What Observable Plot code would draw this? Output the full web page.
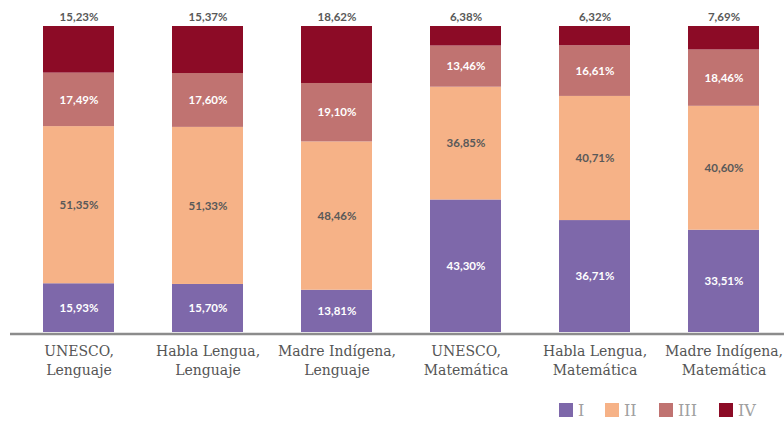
<!DOCTYPE html>
<html>
<head>
<meta charset="utf-8">
<script src="https://cdn.jsdelivr.net/npm/d3@7"></script>
<script src="https://cdn.jsdelivr.net/npm/@observablehq/plot@0.6"></script>
<style>
  html, body { margin: 0; padding: 0; background: #fff; }
  #chart { width: 784px; }
  .legend { position: relative; height: 26px;
            font-family: "DejaVu Serif", serif; font-size: 16px; color: #a0a0a0; }
  .legend .item { position: absolute; top: 8px; display: flex; align-items: center; height: 14px; }
  .legend .sw { width: 14px; height: 14px; margin-right: 5px; }
</style>
</head>
<body>
<div id="chart"></div>
<script>
// Categories (prueba / grupo) and achievement levels I–IV, in percent
const categories = [
  "UNESCO,\nLenguaje",
  "Habla Lengua,\nLenguaje",
  "Madre Indígena,\nLenguaje",
  "UNESCO,\nMatemática",
  "Habla Lengua,\nMatemática",
  "Madre Indígena,\nMatemática"
];
const levels = ["I", "II", "III", "IV"];
const nivelI   = [15.93, 15.70, 13.81, 43.30, 36.71, 33.51];
const nivelII  = [51.35, 51.33, 48.46, 36.85, 40.71, 40.60];
const nivelIII = [17.49, 17.60, 19.10, 13.46, 16.61, 18.46];
const nivelIV  = [15.23, 15.37, 18.62,  6.38,  6.32,  7.69];
const colors = ["#7e68aa", "#f6b287", "#c07371", "#8c0b26"];
const labelColors = ["#ffffff", "#595959", "#ffffff", "#595959"];

// Long table: one row per category × level, bottom level first
const series = [nivelI, nivelII, nivelIII, nivelIV];
const rows = [];
categories.forEach((c, i) => {
  levels.forEach((l, j) => rows.push({categoria: c, nivel: l, valor: series[j][i]}));
});
const fmt = v => v.toFixed(2).replace(".", ",") + "%";
const topRows = rows.filter(d => d.nivel === "IV");

const stack = {x: "categoria", y: "valor", offset: "normalize", order: levels};

const plot = Plot.plot({
  width: 784,
  height: 395,
  marginTop: 26,
  marginBottom: 63,
  marginLeft: 10,
  marginRight: 0,
  x: {domain: categories, range: [11.7, 789.3], paddingInner: 0.452, paddingOuter: 0.226, axis: null},
  y: {domain: [0, 1], axis: null},
  color: {domain: levels, range: colors},
  style: {fontFamily: "Lato, sans-serif", background: "#fff"},
  marks: [
    Plot.barY(rows, Plot.stackY({...stack, fill: "nivel"})),
    Plot.ruleY([0], {stroke: "#8c8c8c", strokeWidth: 2.5, dy: 1.5}),
    // labels inside the segments (level IV is labelled above the bar)
    Plot.text(rows, Plot.stackY({
      ...stack,
      text: d => d.nivel === "IV" ? null : fmt(d.valor),
      fill: d => labelColors[levels.indexOf(d.nivel)],
      fontSize: 11.5,
      fontWeight: "bold"
    })),
    Plot.text(topRows, {
      x: "categoria",
      frameAnchor: "top",
      lineAnchor: "middle",
      dy: -9,
      text: d => fmt(d.valor),
      fill: "#595959",
      fontSize: 11.5,
      fontWeight: "bold"
    }),
    Plot.text(categories, {
      x: d => d,
      frameAnchor: "bottom",
      dy: 11,
      lineAnchor: "top",
      lineHeight: 1.3,
      text: d => d,
      fill: "#555",
      fontSize: 14,
      fontFamily: "DejaVu Serif, serif"
    })
  ]
});
document.getElementById("chart").append(plot);

// Legend below the plot
const legendLeft = [559, 605, 659, 719];
const legend = document.createElement("div");
legend.className = "legend";
levels.forEach((l, j) => {
  const item = document.createElement("div");
  item.className = "item";
  item.style.left = legendLeft[j] + "px";
  const sw = document.createElement("span");
  sw.className = "sw";
  sw.style.background = colors[j];
  const tx = document.createElement("span");
  tx.textContent = l;
  item.append(sw, tx);
  legend.append(item);
});
document.getElementById("chart").append(legend);
</script>
</body>
</html>
